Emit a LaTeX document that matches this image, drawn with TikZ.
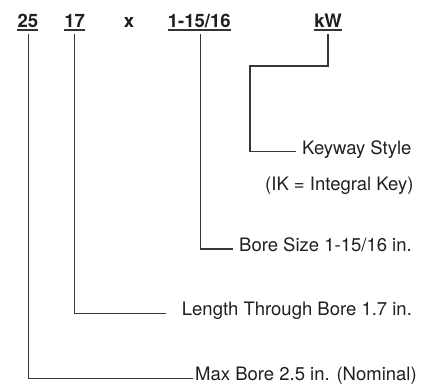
\documentclass[tikz,border=0pt]{standalone}
\usepackage{fontspec}
\setmainfont{TeX Gyre Heros}
\begin{document}
\begin{tikzpicture}[x=1pt,y=-1pt,
  lbl/.style={font=\fontsize{18.5}{22}\selectfont, text=black!88, inner sep=0pt, anchor=mid west},
  num/.style={font=\fontsize{18.5}{22}\selectfont\bfseries, text=black!88, inner sep=0pt, anchor=base},
  conn/.style={draw=black!78, line width=1.3pt},
  uline/.style={draw=black!80, line width=1.2pt}]
\useasboundingbox (0,0) rectangle (430,388);
% top code
\node[num] (n25)   at (27.8,27.7)  {25};
\node[num] (n17)   at (74.7,27.7)  {17};
\node[num] (nx)    at (129,27.7)   {x};
\node[num] (nbore) at (199.3,27.7) {1-15/16};
\node[num] (nkw)   at (328,27.7)   {kW};
\foreach \n in {n25,n17,nbore,nkw}
  \draw[uline] ([yshift=-2.2pt]\n.base west) -- ([yshift=-2.2pt]\n.base east);
% labels
\node[lbl] (lkey)  at (302,151.7)   {Keyway Style};
\node[lbl] (lik)   at (265,188)     {(IK = Integral Key)};
\node[lbl] (lbore) at (239,249)     {Bore Size 1-15/16 in.};
\node[lbl] (llen)  at (181.7,313.3) {Length Through Bore 1.7 in.};
\node[lbl] (lmax)  at (195,378.3)   {Max Bore 2.5 in. (Nominal)};
% connectors
\coordinate (kelbow) at (250,66);
\draw[conn] ([yshift=-6.3pt]nkw.base) |- (kelbow) |- ([xshift=-6pt]lkey.mid west);
\draw[conn] ([xshift=1pt,yshift=-6.3pt]nbore.base) |- ([xshift=-6pt]lbore.mid west);
\draw[conn] ([yshift=-6.3pt]n17.base) |- ([xshift=-16pt]llen.mid west);
\draw[conn] ([xshift=0.5pt,yshift=-6.3pt]n25.base) |- ([xshift=-2pt]lmax.mid west);
\end{tikzpicture}
\end{document}
